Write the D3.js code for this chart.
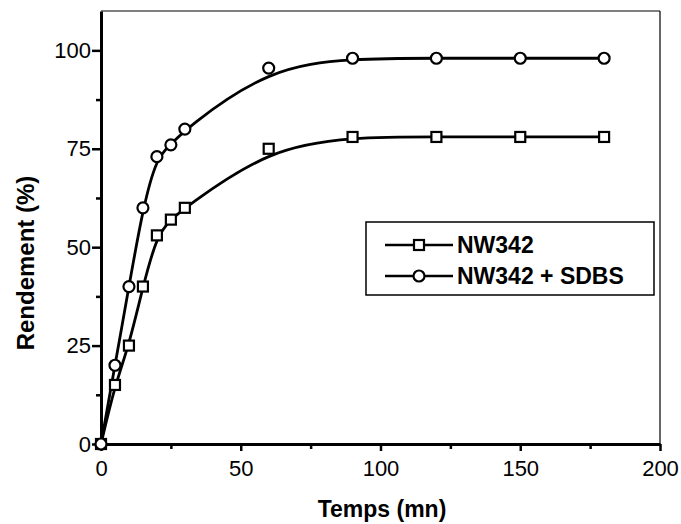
<!DOCTYPE html>
<html>
<head>
<meta charset="utf-8">
<script src="https://cdn.jsdelivr.net/npm/d3@7"></script>
<style>
  body { margin: 0; background: #fff; }
  svg { font-family: "Liberation Sans", Arial, sans-serif; }
</style>
</head>
<body>
<script>
// data
var times = [0, 5, 10, 15, 20, 25, 30, 60, 90, 120, 150, 180];
var nw342 = [0, 15, 25, 40, 53, 57, 60, 75, 78, 78, 78, 78];
var nw342sdbs = [0, 20, 40, 60, 73, 76, 80, 95.5, 98, 98, 98, 98];
var seriesNames = ["NW342", "NW342 + SDBS"];
var xTicks = [0, 50, 100, 150, 200];
var yTicks = [0, 25, 50, 75, 100];

var W = 681, H = 524;
var svg = d3.select("body").append("svg").attr("width", W).attr("height", H);

var x = d3.scaleLinear().domain([0, 200]).range([101, 660]);
var y = d3.scaleLinear().domain([0, 110]).range([444, 11]);

// frame (thin top/right)
svg.append("line").attr("x1", x(0)).attr("x2", x(200)).attr("y1", y(110)).attr("y2", y(110))
    .attr("stroke", "#000").attr("stroke-width", 1.2);
svg.append("line").attr("x1", x(200)).attr("x2", x(200)).attr("y1", y(110)).attr("y2", y(0))
    .attr("stroke", "#000").attr("stroke-width", 1.2);

// x axis
svg.append("g").attr("transform", "translate(0," + y(0) + ")")
    .call(d3.axisBottom(x).tickValues(xTicks).tickSize(7).tickSizeOuter(0).tickPadding(9));
svg.append("g").attr("transform", "translate(0," + y(0) + ")")
    .call(d3.axisBottom(x).tickValues([25, 75, 125, 175]).tickSize(5).tickSizeOuter(0).tickFormat(""))
    .select(".domain").remove();

// y axis
svg.append("g").attr("transform", "translate(" + x(0) + ",0)")
    .call(d3.axisLeft(y).tickValues(yTicks).tickSize(9).tickSizeOuter(0).tickPadding(1));
svg.append("g").attr("transform", "translate(" + x(0) + ",0)")
    .call(d3.axisLeft(y).tickValues([12.5, 37.5, 62.5, 87.5]).tickSize(5).tickSizeOuter(0).tickFormat(""))
    .select(".domain").remove();

svg.selectAll(".domain").attr("stroke", "#000").attr("stroke-width", 3);
svg.selectAll(".tick line").attr("stroke", "#000").attr("stroke-width", 2.5);
svg.selectAll(".tick text").attr("font-size", 22).attr("fill", "#000")
    .attr("font-family", "Liberation Sans, Arial, sans-serif");

// axis titles
svg.append("text").attr("x", 382).attr("y", 517).attr("text-anchor", "middle")
    .attr("font-size", 23).attr("font-weight", "bold").text("Temps (mn)");
svg.append("text").attr("transform", "translate(34,263) rotate(-90)").attr("text-anchor", "middle")
    .attr("font-size", 24).attr("font-weight", "bold").text("Rendement (%)");

// curves
var line = d3.line().x(function (d) { return x(d[0]); }).y(function (d) { return y(d[1]); })
    .curve(d3.curveBasis);
var s1 = times.map(function (t, i) { return [t, nw342[i]]; });
var s2 = times.map(function (t, i) { return [t, nw342sdbs[i]]; });

[s1, s2].forEach(function (s) {
    svg.append("path").datum(s).attr("d", line).attr("fill", "none")
        .attr("stroke", "#000").attr("stroke-width", 2.8);
});

// markers
svg.selectAll(".sq").data(s1).enter().append("rect")
    .attr("x", function (d) { return x(d[0]) - 5; })
    .attr("y", function (d) { return y(d[1]) - 5; })
    .attr("width", 10).attr("height", 10)
    .attr("fill", "#fff").attr("stroke", "#000").attr("stroke-width", 2.2);
svg.selectAll(".ci").data(s2).enter().append("circle")
    .attr("cx", function (d) { return x(d[0]); })
    .attr("cy", function (d) { return y(d[1]); })
    .attr("r", 5.5)
    .attr("fill", "#fff").attr("stroke", "#000").attr("stroke-width", 2.2);

// legend
var lg = svg.append("g");
lg.append("rect").attr("x", 366).attr("y", 222).attr("width", 288).attr("height", 73)
    .attr("fill", "#fff").attr("stroke", "#000").attr("stroke-width", 1.5);
seriesNames.forEach(function (name, i) {
    var cy = 245 + i * 31;
    lg.append("line").attr("x1", 385).attr("x2", 453).attr("y1", cy).attr("y2", cy)
        .attr("stroke", "#000").attr("stroke-width", 2.5);
    if (i === 0) {
        lg.append("rect").attr("x", 414).attr("y", cy - 5).attr("width", 10).attr("height", 10)
            .attr("fill", "#fff").attr("stroke", "#000").attr("stroke-width", 2.2);
    } else {
        lg.append("circle").attr("cx", 419).attr("cy", cy).attr("r", 5.5)
            .attr("fill", "#fff").attr("stroke", "#000").attr("stroke-width", 2.2);
    }
    lg.append("text").attr("x", 457).attr("y", cy + 8).attr("font-size", 23)
        .attr("font-weight", "bold").text(name);
});
</script>
</body>
</html>
